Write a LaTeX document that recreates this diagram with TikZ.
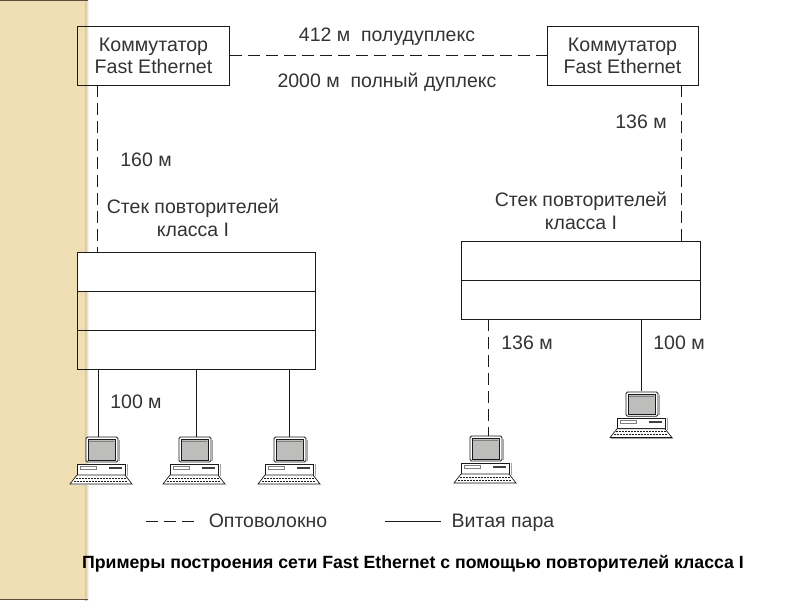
\documentclass[tikz,border=0pt]{standalone}
\usepackage{fontspec}
\setmainfont{Liberation Sans}
\definecolor{strip}{HTML}{F1DFB4}
\definecolor{stripedge}{HTML}{5A4E3C}
\definecolor{stripshade}{HTML}{D9C698}
\definecolor{ink}{HTML}{1A1A1A}
\definecolor{txt}{HTML}{333333}
\definecolor{scr}{HTML}{BDBDBB}
\tikzset{
  x=1pt,y=-1pt,
  wire/.style={line width=.8pt,draw=ink},
  fibre/.style={line width=.8pt,draw=ink,dash pattern=on 12pt off 6pt},
  box/.style={draw=ink,line width=.8pt,inner sep=0pt,align=center,text=txt,font=\fontsize{19.6}{22}\selectfont},
  lbl/.style={text=txt,inner sep=0pt,align=center,font=\fontsize{19.5}{22.5}\selectfont},
  lblb/.style={lbl,anchor=base},
  computer/.pic={
    \draw[ink,line width=.8pt,rounded corners=1.5pt,fill=white] (-16,0) rectangle (16,25);
    \draw[ink,line width=.4pt,fill=scr] (-14,2) rectangle (13.5,23);
    \draw[gray,line width=.7pt] (-13,4) -- (12,4);
    \draw[gray!70,line width=.5pt] (17.5,3) -- (17.5,24);
    \draw[ink,line width=.8pt,fill=white] (-25,27) rectangle (23,38);
    \draw[gray,line width=.6pt] (-22,29.5) rectangle (-6,32);
    \fill[black!75] (7,29.5) rectangle (20,32);
    \draw[gray!70,line width=.5pt] (25,27) -- (25,39);
    \draw[ink,line width=.7pt,fill=white] (-25,38) -- (23,38) -- (30,47) -- (-32,47) -- cycle;
    \draw[ink,line width=.7pt,dash pattern=on 1.5pt off 1.5pt] (-26,41) -- (24,41);
    \draw[ink,line width=.7pt,dash pattern=on 1.5pt off 1.5pt] (-28,44) -- (26,44);
    \draw[gray!70,line width=.5pt] (31,47.6) -- (-31,47.6);
  }
}
\begin{document}
\begin{tikzpicture}
\useasboundingbox (0,0) rectangle (800,600);
% background strip
\fill[white] (0,0) rectangle (800,600);
\fill[strip] (0,0) rectangle (86,600);
\shade[left color=stripshade,right color=white] (85,0) rectangle (89,600);
\fill[stripedge] (0,0) rectangle (88,1);
\fill[stripedge] (0,599) rectangle (88,600);

% switches
\node[box,minimum width=152pt,minimum height=58.5pt] (swL) at (153.5,55.75) {Коммутатор\\Fast Ethernet};
\node[box,minimum width=151pt,minimum height=58.5pt] (swR) at (622.5,55.75) {Коммутатор\\Fast Ethernet};

% stacks
\node[box,fill=white,minimum width=238pt,minimum height=39pt] (a1) at (196.5,271.5) {};
\node[box,minimum width=238pt,minimum height=39pt] (a2) at (196.5,310.5) {};
\node[box,minimum width=238pt,minimum height=39pt] (a3) at (196.5,349.5) {};
\node[box,fill=white,minimum width=239pt,minimum height=39pt] (b1) at (580.5,260.5) {};
\node[box,minimum width=239pt,minimum height=39pt] (b2) at (580.5,299.5) {};

% computer attachment points
\coordinate (p1) at (98,437);
\coordinate (p2) at (196,437);
\coordinate (p3) at (289,437);
\coordinate (p4) at (488,436);
\coordinate (p5) at (641,391);
\coordinate (u1) at (97,252);
\coordinate (u2) at (681,241);

% computers
\pic at (102,437) {computer};
\pic at (195,437) {computer};
\pic at (290,437) {computer};
\pic at (486,436) {computer};
\pic[yscale=.97] at (642,392) {computer};

% connectors
\draw[fibre] (swL.east) -- (swR.west);
\draw[fibre] (swL.south -| u1) -- (u1);
\draw[fibre] (swR.south -| u2) -- (u2);
\draw[fibre] (b2.south -| p4) -- (p4);
\draw[wire] (a3.south -| p1) -- (p1);
\draw[wire] (a3.south -| p2) -- (p2);
\draw[wire] (a3.south -| p3) -- (p3);
\draw[wire] (b2.south -| p5) -- (p5);

% labels
\node[lblb] (t1) at (387,41) {412 м\ \ полудуплекс};
\node[lblb] (t2) at (387,87) {2000 м\ \ полный дуплекс};
\node[lblb] (t3) at (641,128) {136 м};
\node[lblb] (t4) at (146,166) {160 м};
\node[lbl] (t5) at (193,218) {Стек повторителей\\класса I};
\node[lbl] (t6) at (581,211) {Стек повторителей\\класса I};
\node[lblb] (t7) at (527,349) {136 м};
\node[lblb] (t8) at (679,349) {100 м};
\node[lblb] (t9) at (136,408) {100 м};

% legend
\coordinate (f1) at (146,521);
\coordinate (f2) at (194,521);
\coordinate (w1) at (385,521);
\coordinate (w2) at (441,521);
\draw[fibre] (f1) -- (f2);
\draw[wire] (w1) -- (w2);
\node[lblb] (l1) at (268,527) {Оптоволокно};
\node[lblb] (l2) at (503,527) {Витая пара};

\node[inner sep=0pt,anchor=base,text=black,font=\bfseries\fontsize{17.7}{20}\selectfont] (cap) at (413,568) {Примеры построения сети Fast Ethernet с помощью повторителей класса I};
\end{tikzpicture}
\end{document}
